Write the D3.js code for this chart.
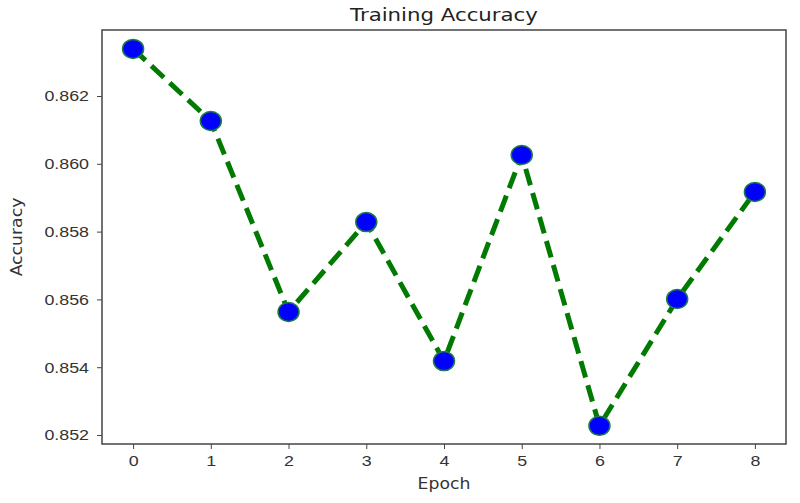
<!DOCTYPE html>
<html lang="en">
<head>
  <meta charset="UTF-8" />
  <title>Training Accuracy</title>
  <style>
    body { margin: 0; background: #fff; }
    svg { display: block; font-family: "DejaVu Sans", sans-serif; }
    .axis text { font-size: 15.5px; fill: #333; }
    .axis path, .axis line { stroke: #444; }
  </style>
</head>
<body>
  <svg id="chart"></svg>

  <script src="https://d3js.org/d3.v7.min.js"></script>
  <script>
    const epochs = [0, 1, 2, 3, 4, 5, 6, 7, 8];
    const accuracy = [0.86339, 0.86126, 0.85563, 0.85828, 0.85418, 0.86026, 0.85227, 0.85601, 0.85917];
    const yTicks = [0.852, 0.854, 0.856, 0.858, 0.860, 0.862];

    const W = 800, H = 503;
    const margin = { top: 30, right: 14, bottom: 59, left: 102 };
    const width = W - margin.left - margin.right;
    const height = H - margin.top - margin.bottom;

    const svg = d3.select("#chart")
      .attr("width", W)
      .attr("height", H);

    const g = svg.append("g")
      .attr("transform", `translate(${margin.left},${margin.top})`);

    const x = d3.scaleLinear().domain([-0.4, 8.4]).range([0, width]);
    const y = d3.scaleLinear().domain([0.851735, 0.863947]).range([height, 0]);

    // frame
    g.append("rect")
      .attr("width", width)
      .attr("height", height)
      .attr("fill", "none")
      .attr("stroke", "#444")
      .attr("stroke-width", 1.5);

    g.append("g")
      .attr("class", "axis")
      .attr("transform", `translate(0,${height})`)
      .call(d3.axisBottom(x).tickValues(epochs).tickSize(5).tickPadding(6).tickFormat(d3.format("d")))
      .call(a => a.select(".domain").remove());

    g.append("g")
      .attr("class", "axis")
      .call(d3.axisLeft(y).tickValues(yTicks).tickSize(5).tickPadding(8).tickFormat(d3.format(".3f")))
      .call(a => a.select(".domain").remove());

    const pts = epochs.map((e, i) => ({ e, v: accuracy[i] }));

    const line = d3.line()
      .x(d => x(d.e))
      .y(d => y(d.v));

    g.append("path")
      .datum(pts)
      .attr("d", line)
      .attr("fill", "none")
      .attr("stroke", "#007a00")
      .attr("stroke-width", 5)
      .attr("stroke-dasharray", "17,8");

    g.selectAll(".dot")
      .data(pts)
      .join("ellipse")
      .attr("class", "dot")
      .attr("cx", d => x(d.e))
      .attr("cy", d => y(d.v))
      .attr("rx", 10.5)
      .attr("ry", 9.5)
      .attr("fill", "#0000ff")
      .attr("stroke", "#1f7a4a")
      .attr("stroke-width", 1.5);

    svg.append("text")
      .attr("x", margin.left + width / 2)
      .attr("y", 21)
      .attr("text-anchor", "middle")
      .attr("font-size", 18.5)
      .attr("fill", "#222")
      .text("Training Accuracy");

    svg.append("text")
      .attr("x", margin.left + width / 2)
      .attr("y", 489)
      .attr("text-anchor", "middle")
      .attr("font-size", 15)
      .attr("fill", "#333")
      .text("Epoch");

    svg.append("text")
      .attr("transform", `translate(22,${margin.top + height / 2}) rotate(-90)`)
      .attr("text-anchor", "middle")
      .attr("font-size", 15)
      .attr("fill", "#333")
      .text("Accuracy");

    // the reference text is a little wider than DejaVu renders it
    svg.selectAll("text").each(function () {
      const len = this.getComputedTextLength();
      d3.select(this)
        .attr("textLength", len * 1.15)
        .attr("lengthAdjust", "spacingAndGlyphs");
    });
  </script>
</body>
</html>
